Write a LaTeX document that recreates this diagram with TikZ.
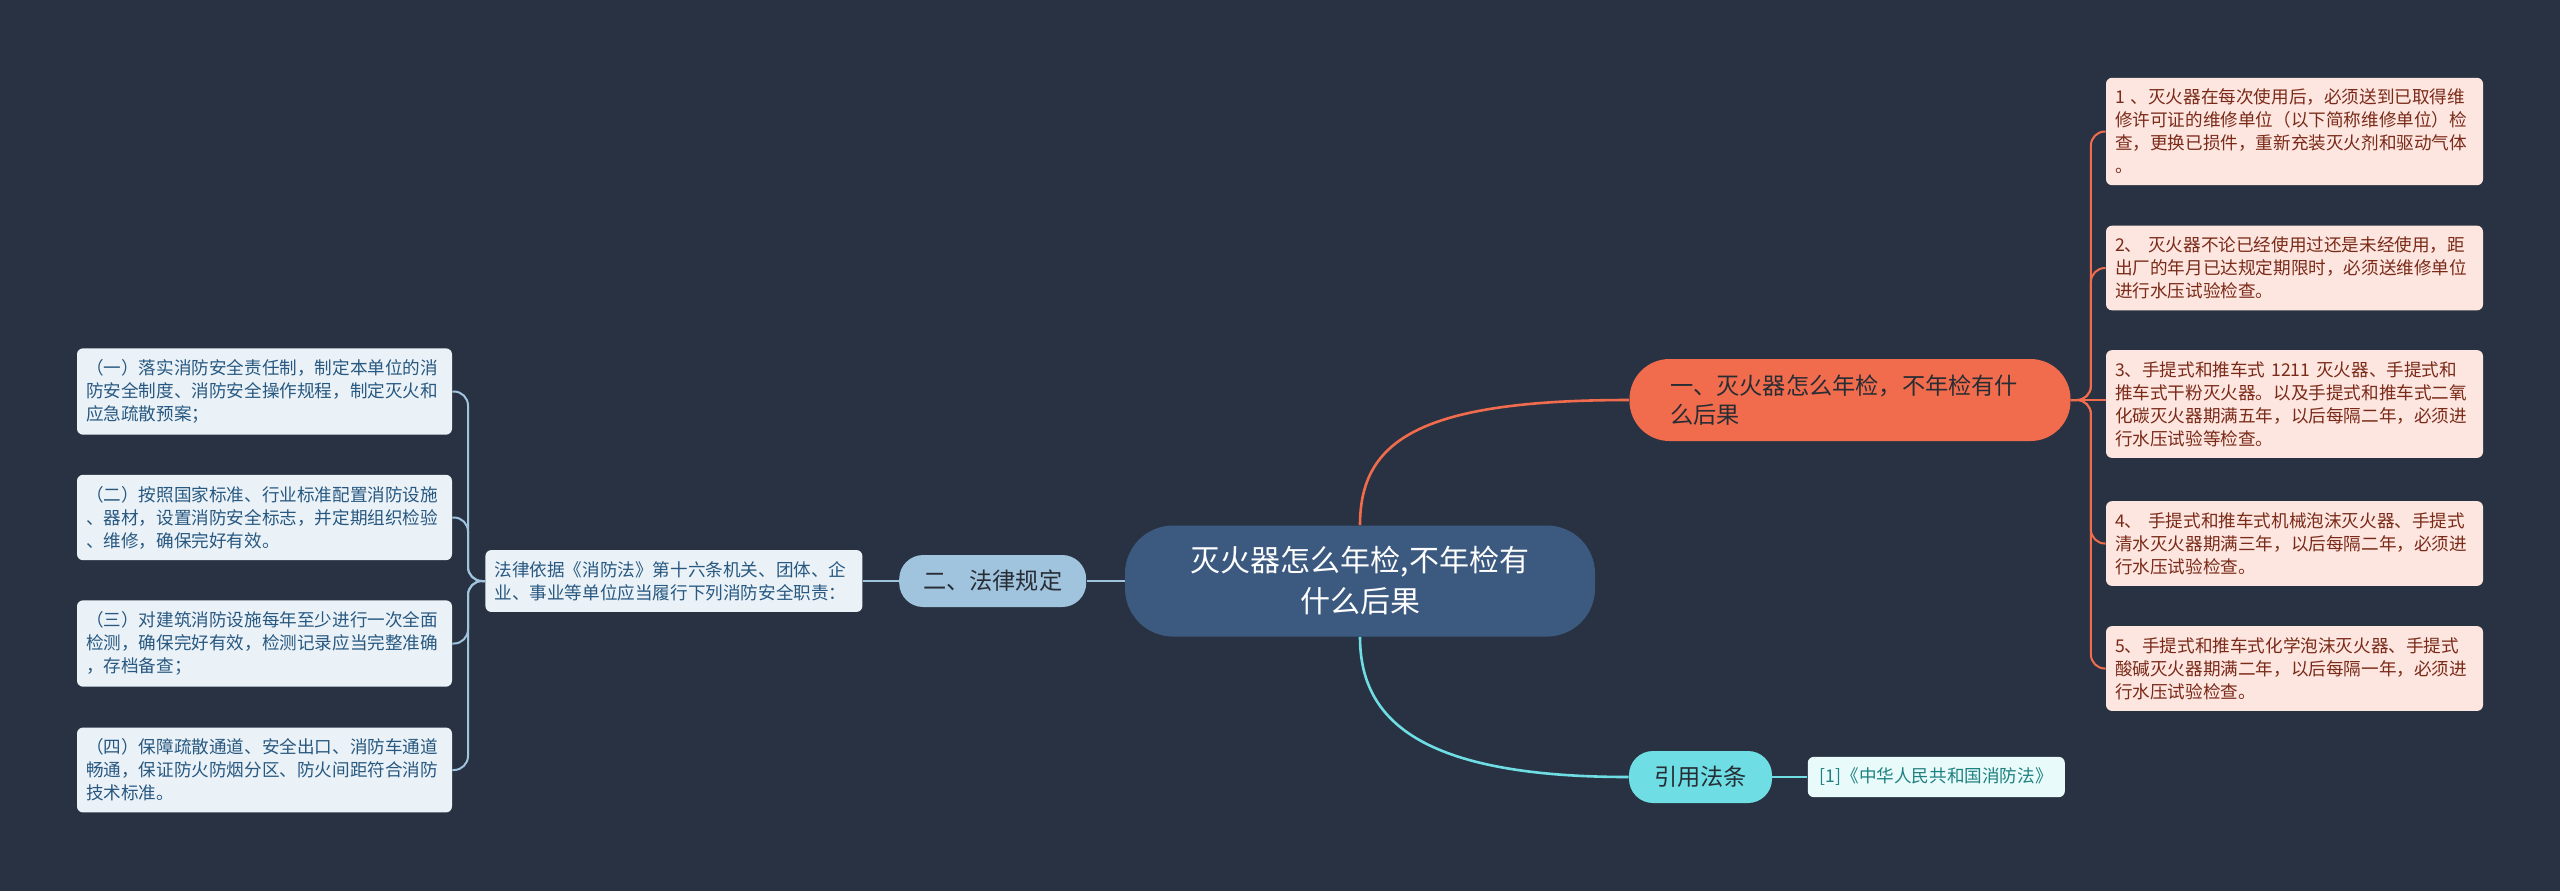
\documentclass[tikz,border=0pt]{standalone}
\usepackage{fontspec}
\setmainfont{Noto Sans CJK SC}
\usepackage{tikz}
\usetikzlibrary{positioning}
\definecolor{bgnavy}{RGB}{41,50,66}
\definecolor{rootblue}{RGB}{60,90,128}
\definecolor{fireorange}{RGB}{240,108,76}
\definecolor{peachbg}{RGB}{253,230,224}
\definecolor{peachtext}{RGB}{122,42,24}
\definecolor{lawblue}{RGB}{160,196,222}
\definecolor{icebg}{RGB}{234,242,248}
\definecolor{icetext}{RGB}{40,88,128}
\definecolor{citecyan}{RGB}{110,222,228}
\definecolor{mintbg}{RGB}{232,250,250}
\definecolor{minttext}{RGB}{30,128,128}
\definecolor{darkink}{RGB}{40,44,52}
\newcommand{\leaffont}{\fontsize{8.8}{11.5}\selectfont}
\newcommand{\pillfont}{\fontsize{11.6}{14.7}\selectfont}

\begin{document}
\begin{tikzpicture}[x=0.5pt, y=-0.5pt,
    leafbox/.style={rectangle, rounded corners=3pt, align=left, inner xsep=4.5pt, inner ysep=5.6pt, font=\leaffont},
    pill/.style={rectangle, rounded corners=12pt, minimum height=26pt, inner sep=0pt, font=\pillfont, text=darkink},
    mainline/.style={line width=1.3pt},
    branchline/.style={line width=1pt, rounded corners=7pt}]
    \fill [bgnavy] (0,0) rectangle (2560,891);

    \node [rectangle, fill=rootblue, rounded corners=24pt, align=center, minimum width=235pt, minimum height=55.5pt, text=white, font=\fontsize{15}{20.5}\selectfont] (root) at (1360,581) {灭火器怎么年检,不年检有\\什么后果};
    \node [rectangle, fill=fireorange, rounded corners=20pt, text width=180pt, align=left, inner xsep=20.25pt, minimum height=41pt, text=darkink, font=\pillfont] (fire) at (1850,400) {一、灭火器怎么年检，不年检有什\\么后果};
    \node [pill, fill=lawblue, minimum width=93.5pt, left=19pt of root] (rules) {二、法律规定};
    \node [leafbox, fill=icebg, text=icetext, text width=179.5pt, left=18pt of rules] (basis) {法律依据《消防法》第十六条机关、团体、企\\业、事业等单位应当履行下列消防安全职责：};
    \node [pill, fill=citecyan, minimum width=71.5pt] (cite) at (1700.5,777) {引用法条};
    \node [leafbox, fill=mintbg, text=minttext, minimum width=128.5pt, right=17.5pt of cite] (lawref) {[1]《中华人民共和国消防法》};

    \node [leafbox, fill=peachbg, text=peachtext, text width=179.5pt] (r1) at (2294.5,131.5) {1 、灭火器在每次使用后，必须送到已取得维\\修许可证的维修单位（以下简称维修单位）检\\查，更换已损件，重新充装灭火剂和驱动气体\\。};
    \node [leafbox, fill=peachbg, text=peachtext, text width=179.5pt] (r2) at (2294.5,268) {2、 灭火器不论已经使用过还是未经使用，距\\出厂的年月已达规定期限时，必须送维修单位\\进行水压试验检查。};
    \node [leafbox, fill=peachbg, text=peachtext, text width=179.5pt] (r3) at (2294.5,404) {3、手提式和推车式 1211 灭火器、手提式和\\推车式干粉灭火器。以及手提式和推车式二氧\\化碳灭火器期满五年，以后每隔二年，必须进\\行水压试验等检查。};
    \node [leafbox, fill=peachbg, text=peachtext, text width=179.5pt] (r4) at (2294.5,543.5) {4、 手提式和推车式机械泡沫灭火器、手提式\\清水灭火器期满三年，以后每隔二年，必须进\\行水压试验检查。};
    \node [leafbox, fill=peachbg, text=peachtext, text width=179.5pt] (r5) at (2294.5,668.5) {5、手提式和推车式化学泡沫灭火器、手提式\\酸碱灭火器期满二年，以后每隔一年，必须进\\行水压试验检查。};

    \node [leafbox, fill=icebg, text=icetext, text width=178.5pt] (l1) at (264.5,391.5) {（一）落实消防安全责任制，制定本单位的消\\防安全制度、消防安全操作规程，制定灭火和\\应急疏散预案；};
    \node [leafbox, fill=icebg, text=icetext, text width=178.5pt] (l2) at (264.5,517.5) {（二）按照国家标准、行业标准配置消防设施\\、器材，设置消防安全标志，并定期组织检验\\、维修，确保完好有效。};
    \node [leafbox, fill=icebg, text=icetext, text width=178.5pt] (l3) at (264.5,643.5) {（三）对建筑消防设施每年至少进行一次全面\\检测，确保完好有效，检测记录应当完整准确\\，存档备查；};
    \node [leafbox, fill=icebg, text=icetext, text width=178.5pt] (l4) at (264.5,770) {（四）保障疏散通道、安全出口、消防车通道\\畅通，保证防火防烟分区、防火间距符合消防\\技术标准。};

    % main branches
    \draw [mainline, fireorange] (root.north) .. controls (1360,440) and (1420,400) .. (fire.west);
    \draw [mainline, citecyan] (root.south) .. controls (1360,720) and (1420,777) .. (cite.west);
    \draw [mainline, lawblue] (root) -- (rules);
    \draw [branchline, lawblue] (rules) -- (basis);
    \draw [mainline, citecyan] (cite) -- (lawref);

    % right leaves
    \draw [branchline, fireorange] (fire.east) -- ++(10pt,0) |- (r1.west);
    \draw [branchline, fireorange] (fire.east) -- ++(10pt,0) |- (r2.west);
    \draw [branchline, fireorange] (fire.east) -- (fire.east -| r3.west);
    \draw [branchline, fireorange] (fire.east) -- ++(10pt,0) |- (r4.west);
    \draw [branchline, fireorange] (fire.east) -- ++(10pt,0) |- (r5.west);

    % left leaves
    \draw [branchline, lawblue] (basis.west) -- ++(-8.5pt,0) |- (l1.east);
    \draw [branchline, lawblue] (basis.west) -- ++(-8.5pt,0) |- (l2.east);
    \draw [branchline, lawblue] (basis.west) -- ++(-8.5pt,0) |- (l3.east);
    \draw [branchline, lawblue] (basis.west) -- ++(-8.5pt,0) |- (l4.east);
\end{tikzpicture}
\end{document}
